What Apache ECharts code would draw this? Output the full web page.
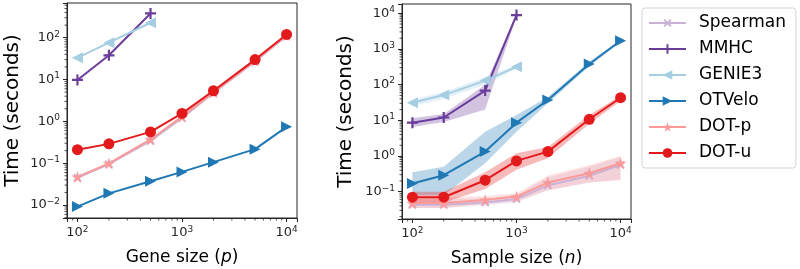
<!DOCTYPE html>
<html>
<head>
<meta charset="utf-8">
<script src="https://cdn.jsdelivr.net/npm/echarts@6/dist/echarts.min.js"></script>
<style>
  html, body { margin: 0; padding: 0; background: #fff; }
  #chart { width: 800px; height: 269px; }
</style>
</head>
<body>
<div id="chart"></div>
<script>
const methods = ['Spearman', 'MMHC', 'GENIE3', 'OTVelo', 'DOT-p', 'DOT-u'];
const colors = ['#cab2d6', '#6a3d9a', '#a6cee3', '#1f78b4', '#fb9a99', '#e31a1c'];

// left panel: runtime vs number of genes
const geneSizes = [100, 200, 500, 1000, 2000, 5000, 10000];
const geneSpearman = [0.045, 0.095, 0.34, 1.2, 4.8, 27, 110];
const geneMMHC = [9.8, 38, 380];
const geneGENIE3 = [33, 76, 228];
const geneOTVelo = [0.0092, 0.019, 0.037, 0.062, 0.106, 0.217, 0.74];
const geneDOTp = [0.047, 0.099, 0.37, 1.3, 5.0, 28, 115];
const geneDOTu = [0.21, 0.29, 0.56, 1.55, 5.4, 30, 120];

// right panel: runtime vs number of samples
const sampleSizes = [100, 200, 500, 1000, 2000, 5000, 10000];
const sampleSpearman = [0.043, 0.043, 0.05, 0.062, 0.15, 0.28, 0.56];
const sampleMMHC = [8.6, 12, 68, 8900];
const sampleGENIE3 = [31, 51, 130, 316];
const sampleOTVelo = [0.17, 0.29, 1.33, 8.6, 37, 380, 1700];
const sampleDOTp = [0.048, 0.048, 0.059, 0.073, 0.18, 0.33, 0.63];
const sampleDOTu = [0.07, 0.07, 0.21, 0.73, 1.33, 10.7, 43];

// shaded spread in the right panel
const sampleSpearmanLow = [0.035, 0.035, 0.042, 0.05, 0.11, 0.18, 0.22];
const sampleSpearmanHigh = [0.06, 0.06, 0.065, 0.08, 0.25, 0.5, 0.95];
const sampleMMHCLow = [6.5, 9, 20, 8000];
const sampleMMHCHigh = [11.5, 15, 100, 10000];
const sampleGENIE3Low = [25, 40, 100, 280];
const sampleGENIE3High = [38, 62, 160, 360];
const sampleOTVeloLow = [0.08, 0.08, 0.63, 4.8, 30, 330, 1550];
const sampleOTVeloHigh = [0.35, 0.5, 4.8, 14, 45, 430, 1850];
const sampleDOTpLow = [0.035, 0.035, 0.045, 0.055, 0.11, 0.18, 0.21];
const sampleDOTpHigh = [0.07, 0.07, 0.075, 0.09, 0.28, 0.55, 1.0];
const sampleDOTuLow = [0.05, 0.05, 0.12, 0.41, 0.87, 8, 35];
const sampleDOTuHigh = [0.1, 0.1, 0.35, 1.2, 1.8, 14, 50];

const ink = '#262626';
const plusPath = 'path://M4,0h2v10h-2zM0,4h10v2h-10z';
const starPath = 'path://M5,0L6.18,3.82L10,3.82L6.91,6.18L8.09,10L5,7.64L1.91,10L3.09,6.18L0,3.82L3.82,3.82Z';
const markers = [
  { symbol: plusPath, rotate: 45, size: 10 },
  { symbol: plusPath, rotate: 0, size: 11 },
  { symbol: 'triangle', rotate: 90, size: 11 },
  { symbol: 'triangle', rotate: -90, size: 11 },
  { symbol: starPath, rotate: 0, size: 12 },
  { symbol: 'circle', rotate: 0, size: 11 }
];

function powLabel(v) {
  const lg = Math.log10(v);
  const e = Math.round(lg);
  if (Math.abs(lg - e) > 1e-6) return '';
  return '10{sup|' + (e < 0 ? '\u2212' + (-e) : e) + '}';
}
const supRich = { sup: { fontSize: 9, color: ink, padding: [0, 0, 7, 0] } };

function xLogAxis(gi, label, sym) {
  return {
    type: 'log', gridIndex: gi, min: Math.pow(10, 1.9), max: Math.pow(10, 4.1),
    splitLine: { show: false },
    axisLine: { show: true, onZero: false, lineStyle: { color: ink } },
    axisTick: { show: true, length: 4, lineStyle: { color: ink } },
    axisLabel: { formatter: powLabel, fontSize: 13, color: ink, margin: 7, rich: supRich },
    name: label + ' ({it|' + sym + '})',
    nameLocation: 'middle', nameGap: 31,
    nameTextStyle: { fontSize: 17, color: '#000', rich: { it: { fontSize: 17, fontStyle: 'italic', color: '#000' } } }
  };
}
function yLogAxis(gi, lo, hi, gap) {
  return {
    type: 'log', gridIndex: gi, min: Math.pow(10, lo), max: Math.pow(10, hi),
    splitLine: { show: false },
    axisLine: { show: true, onZero: false, lineStyle: { color: ink } },
    axisTick: { show: true, length: 4, lineStyle: { color: ink } },
    axisLabel: { formatter: powLabel, fontSize: 13, color: ink, margin: 7, rich: supRich },
    name: 'Time (seconds)', nameLocation: 'middle', nameGap: gap,
    nameTextStyle: { fontSize: 20, color: '#000' }
  };
}

function lineSeries(k, gi, xs, ys) {
  const m = markers[k];
  return {
    name: methods[k], type: 'line', xAxisIndex: gi, yAxisIndex: gi, z: 3,
    data: ys.map((y, i) => [xs[i], y]),
    symbol: m.symbol, symbolRotate: m.rotate, symbolSize: m.size, showSymbol: true,
    lineStyle: { color: colors[k], width: 2 },
    itemStyle: { color: colors[k] }
  };
}
// shaded low..high region, one polygon through the grid's scales
function bandSeries(k, gi, xs, low, high) {
  return {
    type: 'custom', xAxisIndex: gi, yAxisIndex: gi, z: 1, silent: true,
    data: low.map((v, i) => [xs[i], v, high[i]]),
    encode: { x: 0, y: [1, 2] },
    renderItem(params, api) {
      if (params.dataIndexInside !== 0) return null;
      const n = params.dataInsideLength;
      const top = [], bottom = [];
      for (let i = 0; i < n; i++) {
        top.push(api.coord([api.value(0, i), api.value(2, i)]));
        bottom.push(api.coord([api.value(0, i), api.value(1, i)]));
      }
      return {
        type: 'polygon',
        shape: { points: top.concat(bottom.reverse()) },
        style: { fill: echarts.color.modifyAlpha(colors[k], 0.3) }
      };
    }
  };
}

// log minor ticks (2..9 per decade)
function minorValues(lo, hi) {
  const out = [];
  for (let e = Math.floor(Math.log10(lo)); e <= Math.ceil(Math.log10(hi)); e++) {
    for (const m of [2, 3, 4, 5, 6, 7, 8, 9]) {
      const v = m * Math.pow(10, e);
      if (v > lo && v < hi) out.push(v);
    }
  }
  return out;
}
function minorTicks(gi, dir, values, anchor) {
  return {
    type: 'custom', xAxisIndex: gi, yAxisIndex: gi, silent: true, z: 5,
    data: values.map(v => dir === 'x' ? [v, anchor] : [anchor, v]),
    renderItem(params, api) {
      const cs = params.coordSys;
      const p = api.coord([api.value(0), api.value(1)]);
      const shape = dir === 'x'
        ? { x1: p[0], y1: cs.y + cs.height, x2: p[0], y2: cs.y + cs.height + 2.5 }
        : { x1: cs.x, y1: p[1], x2: cs.x - 2.5, y2: p[1] };
      return { type: 'line', shape, style: { stroke: ink, lineWidth: 0.8 } };
    }
  };
}

const series = [];
// left
series.push(lineSeries(0, 0, geneSizes, geneSpearman));
series.push(lineSeries(1, 0, geneSizes, geneMMHC));
series.push(lineSeries(2, 0, geneSizes, geneGENIE3));
series.push(lineSeries(3, 0, geneSizes, geneOTVelo));
series.push(lineSeries(4, 0, geneSizes, geneDOTp));
series.push(lineSeries(5, 0, geneSizes, geneDOTu));
// right
series.push(bandSeries(0, 1, sampleSizes, sampleSpearmanLow, sampleSpearmanHigh));
series.push(bandSeries(1, 1, sampleSizes, sampleMMHCLow, sampleMMHCHigh));
series.push(bandSeries(2, 1, sampleSizes, sampleGENIE3Low, sampleGENIE3High));
series.push(bandSeries(3, 1, sampleSizes, sampleOTVeloLow, sampleOTVeloHigh));
series.push(bandSeries(4, 1, sampleSizes, sampleDOTpLow, sampleDOTpHigh));
series.push(bandSeries(5, 1, sampleSizes, sampleDOTuLow, sampleDOTuHigh));
series.push(lineSeries(0, 1, sampleSizes, sampleSpearman));
series.push(lineSeries(1, 1, sampleSizes, sampleMMHC));
series.push(lineSeries(2, 1, sampleSizes, sampleGENIE3));
series.push(lineSeries(3, 1, sampleSizes, sampleOTVelo));
series.push(lineSeries(4, 1, sampleSizes, sampleDOTp));
series.push(lineSeries(5, 1, sampleSizes, sampleDOTu));
// minor ticks
series.push(minorTicks(0, 'x', minorValues(Math.pow(10, 1.9), Math.pow(10, 4.1)), 1));
series.push(minorTicks(0, 'y', minorValues(Math.pow(10, -2.31), Math.pow(10, 2.83)), 1000));
series.push(minorTicks(1, 'x', minorValues(Math.pow(10, 1.9), Math.pow(10, 4.1)), 1));
series.push(minorTicks(1, 'y', minorValues(Math.pow(10, -1.765), Math.pow(10, 4.26)), 1000));

const chart = echarts.init(document.getElementById('chart'));
chart.setOption({
  animation: false,
  textStyle: { fontFamily: 'DejaVu Sans' },
  legend: {
    data: methods, orient: 'vertical', left: 642, top: 8,
    padding: [5, 10, 5, 6], itemGap: 6, itemWidth: 37, itemHeight: 12,
    backgroundColor: '#fff', borderColor: '#d3d3d3', borderWidth: 1, borderRadius: 3,
    textStyle: { fontSize: 17, color: '#000', lineHeight: 20, padding: [0, 0, 0, 8] }
  },
  grid: [
    { left: 67, top: 3, width: 230, height: 215, show: true, borderColor: ink, borderWidth: 1, outerBoundsMode: 'none' },
    { left: 402, top: 4, width: 229, height: 215, show: true, borderColor: ink, borderWidth: 1, outerBoundsMode: 'none' }
  ],
  xAxis: [xLogAxis(0, 'Gene size', 'p'), xLogAxis(1, 'Sample size', 'n')],
  yAxis: [yLogAxis(0, -2.31, 2.83, 44), yLogAxis(1, -1.765, 4.26, 46)],
  series
});
</script>
</body>
</html>
